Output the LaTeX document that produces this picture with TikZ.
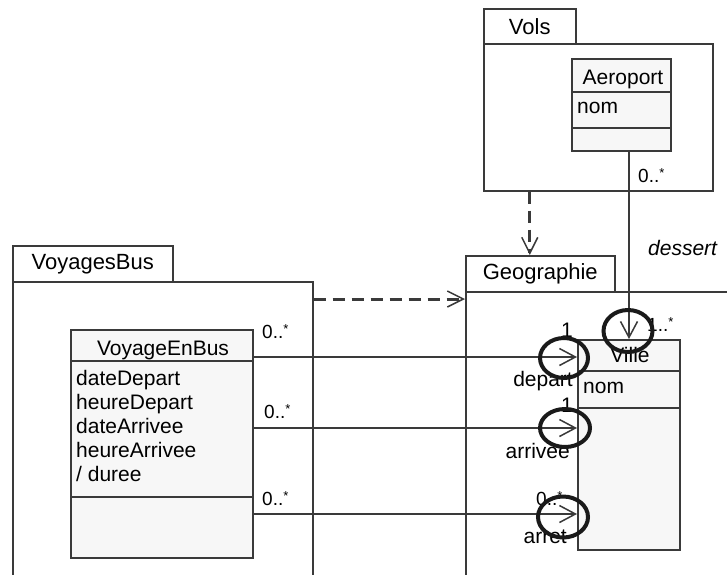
\documentclass[tikz,border=0pt]{standalone}
\usepackage{fontspec}
\setmainfont{Liberation Sans}
\usepackage{tikz}
\usetikzlibrary{arrows.meta, shapes.geometric, calc}
\definecolor{umlline}{HTML}{3A3A3A}
\definecolor{clsbg}{HTML}{F7F7F7}
\definecolor{ringblk}{HTML}{1A1A1A}
\newcommand{\pkgfont}{\fontsize{22}{26}\selectfont}
\newcommand{\clsfont}{\fontsize{21}{24}\selectfont}
\newcommand{\multfont}{\fontsize{19}{22}\selectfont}
\newcommand{\mstar}{\raisebox{4.5pt}{\fontsize{13}{13}\selectfont *}}
\tikzset{
  pkgtab/.style={draw=umlline, line width=1.5pt, fill=white, inner sep=0pt,
                 anchor=north west, font=\pkgfont},
  pkgbody/.style={draw=umlline, line width=1.5pt, fill=white, inner sep=0pt,
                  anchor=north west},
  clsbox/.style={draw=umlline, line width=2pt, fill=clsbg, inner sep=0pt,
                 anchor=north west},
  clsline/.style={umlline, line width=1.5pt},
  clsname/.style={font=\clsfont, inner sep=0pt, anchor=base},
  clstxt/.style={font=\clsfont, inner sep=0pt, anchor=base west},
  mult/.style={font=\multfont, inner sep=0pt, anchor=base west},
  role/.style={font=\clsfont, inner sep=0pt, anchor=base east},
  assoc/.style={-{Straight Barb[length=16pt, width=17pt, line width=1.5pt]},
                umlline, line width=1.5pt},
  depend/.style={-{Straight Barb[length=16pt, width=16pt, line width=1.5pt]},
                 umlline, line width=3pt, dash pattern=on 12pt off 7pt},
  ring/.style={draw=ringblk, ellipse, line width=4pt, inner sep=0pt},
}
\begin{document}
\begin{tikzpicture}[x=1pt, y=-1pt]
  \useasboundingbox (0,0) rectangle (727,574);
  \clip (0,0) rectangle (727,574);

  % packages
  \node[pkgbody, minimum width=229pt, minimum height=147pt] (volsbody) at (483,43) {};
  \node[pkgtab, minimum width=92pt, minimum height=35pt] (volstab) at (483,8) {Vols};
  \node[pkgbody, minimum width=300pt, minimum height=320pt] (geobody) at (465,291) {};
  \node[pkgtab, minimum width=149pt, minimum height=36pt] (geotab) at (465,255) {Geographie};
  \node[pkgbody, minimum width=300pt, minimum height=320pt] (busbody) at (12,281) {};
  \node[pkgtab, minimum width=160pt, minimum height=36pt] (bustab) at (12,245) {VoyagesBus};

  % classes
  \node[clsbox, minimum width=99pt, minimum height=92pt] (aeroport) at (571,58) {};
  \draw[clsline] (aeroport.west |- 0,92) -- (aeroport.east |- 0,92);
  \draw[clsline] (aeroport.west |- 0,128) -- (aeroport.east |- 0,128);
  \node[clsname] (aeroname) at (623,84) {Aeroport};
  \node[clstxt] (aeronom) at (577,113) {nom};

  \node[clsbox, minimum width=102pt, minimum height=210pt] (ville) at (577,339) {};
  \draw[clsline] (ville.west |- 0,371) -- (ville.east |- 0,371);
  \draw[clsline] (ville.west |- 0,408) -- (ville.east |- 0,408);
  \node[clsname] (villename) at (630,362) {Ville};
  \node[clstxt] (villenom) at (583,393) {nom};

  \node[clsbox, minimum width=182pt, minimum height=228pt] (voyage) at (70,329) {};
  \draw[clsline] (voyage.west |- 0,361) -- (voyage.east |- 0,361);
  \draw[clsline] (voyage.west |- 0,497) -- (voyage.east |- 0,497);
  \node[clsname] (voyagename) at (163,355) {VoyageEnBus};
  \node[clstxt] (attrdd) at (76,385) {dateDepart};
  \node[clstxt] (attrhd) at (76,409) {heureDepart};
  \node[clstxt] (attrda) at (76,433) {dateArrivee};
  \node[clstxt] (attrha) at (76,457) {heureArrivee};
  \node[clstxt] (attrdu) at (76,481) {/ duree};

  % dependencies
  \draw[depend] (volstab.center |- volsbody.south) -- (volstab.center |- geotab.north);
  \draw[depend] (busbody.east |- 0,299) -- (geobody.west |- 0,299);

  % associations
  \draw[assoc] (ville.north |- aeroport.south) -- (ville.north);
  \draw[assoc] (voyage.east |- 0,357) -- (ville.west |- 0,357);
  \draw[assoc] (voyage.east |- 0,428) -- (ville.west |- 0,428);
  \draw[assoc] (voyage.east |- 0,514) -- (ville.west |- 0,514);

  % multiplicities and roles
  \node[mult] (m1) at (262,338) {0..\mstar};
  \node[mult] (m2) at (264,418) {0..\mstar};
  \node[mult] (m3) at (262,505) {0..\mstar};
  \node[mult] (m4) at (638,182) {0..\mstar};
  \node[mult] (m5) at (536,505) {0..\mstar};
  \node[mult] (m6) at (647,331) {1..\mstar};
  \node[clsname] (one1) at (567,337) {1};
  \node[clsname] (one2) at (567,412) {1};
  \node[role] (rdep) at (573,386) {depart};
  \node[role] (rarr) at (570,458) {arrivee};
  \node[role] (rarret) at (567,543) {arret};
  \node[clstxt, font=\clsfont\itshape] (rdes) at (648,255) {dessert};

  % rings
  \node[ring, minimum width=48pt, minimum height=40pt] (ringdep) at (564,358) {};
  \node[ring, minimum width=50pt, minimum height=38pt] (ringarr) at (565,428) {};
  \node[ring, minimum width=50pt, minimum height=41pt] (ringarret) at (563,517) {};
  \node[ring, minimum width=49pt, minimum height=42pt] (ringdes) at (628,331) {};
\end{tikzpicture}
\end{document}
